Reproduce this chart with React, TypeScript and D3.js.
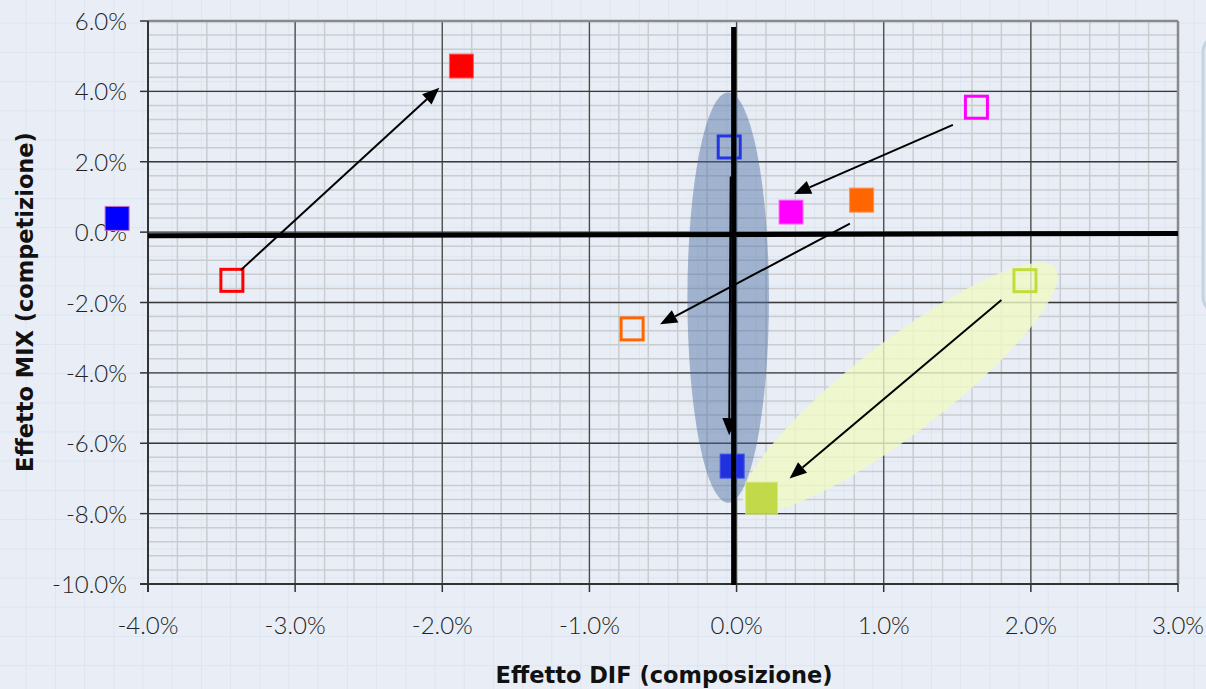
import React from "react";
import * as d3 from "d3";

// ---- data (percent values) ----
const xTicks = [-4, -3, -2, -1, 0, 1, 2, 3];
const yTicks = [6, 4, 2, 0, -2, -4, -6, -8, -10];
const xTickLabels = ["-4.0%", "-3.0%", "-2.0%", "-1.0%", "0.0%", "1.0%", "2.0%", "3.0%"];
const yTickLabels = ["6.0%", "4.0%", "2.0%", "0.0%", "-2.0%", "-4.0%", "-6.0%", "-8.0%", "-10.0%"];

const pointIds = ["blueOut", "redNew", "redOld", "blueOld", "blueNew", "magNew", "magOld", "orgOld", "orgNew", "grnOld", "grnNew"];
const pointX = [-4.21, -1.87, -3.43, -0.05, -0.03, 0.37, 1.63, 0.85, -0.71, 1.96, 0.17];
const pointY = [0.39, 4.72, -1.37, 2.42, -6.65, 0.57, 3.55, 0.91, -2.75, -1.38, -7.56];

const arrowX1 = [-3.37, 1.47, 0.77, -0.04, 1.80];
const arrowY1 = [-1.08, 3.05, 0.24, 1.58, -1.93];
const arrowX2 = [-2.02, 0.39, -0.52, -0.05, 0.36];
const arrowY2 = [4.10, 1.08, -2.62, -5.77, -7.0];

const axisLineX1 = [-4, -0.02];
const axisLineY1 = [-0.1, 5.83];
const axisLineX2 = [3, -0.02];
const axisLineY2 = [-0.04, -10.03];

// ---- styles ----
const markerStyle: Record<string, { fill: string; stroke: string; size: number; sw: number; op?: number }> = {
  blueOut: { fill: "#0000ff", stroke: "#c070c8", size: 24, sw: 1 },
  redNew: { fill: "#ff0000", stroke: "#ff6060", size: 24, sw: 1 },
  redOld: { fill: "none", stroke: "#ff0000", size: 22, sw: 3 },
  blueOld: { fill: "none", stroke: "#2436e0", size: 22, sw: 3 },
  blueNew: { fill: "#2032e0", stroke: "#4050e8", size: 24, sw: 1 },
  magNew: { fill: "#ff00ff", stroke: "#ff70ff", size: 24, sw: 1 },
  magOld: { fill: "none", stroke: "#ff00ff", size: 22, sw: 3 },
  orgOld: { fill: "#ff6600", stroke: "#ff9050", size: 24, sw: 1 },
  orgNew: { fill: "none", stroke: "#ff6600", size: 22, sw: 3 },
  grnOld: { fill: "none", stroke: "#c2dc3a", size: 22, sw: 3 },
  grnNew: { fill: "#bcd638", stroke: "#d4ea70", size: 32, sw: 1, op: 0.88 },
};

const W = 1206;
const H = 689;
const margin = { left: 148, right: 1178, top: 21, bottom: 584 };

export default function App() {
  const x = d3.scaleLinear().domain([-4, 3]).range([margin.left, margin.right]);
  const y = d3.scaleLinear().domain([-10, 6]).range([margin.bottom, margin.top]);

  const minorX = d3.range(-4, 3.0001, 0.2);
  const minorY = d3.range(-10, 6.0001, 0.4);
  const patX = d3.range(-3, W, 29.2);
  const patY = d3.range(-6, H, 29.2);

  // ellipses
  const blueEl = { cx: x(-0.057), cy: y(-1.86), rx: x(0.22) - x(-0.057), ry: y(-1.86) - y(3.97) };
  const gA = [x(0.06), y(-7.8)];
  const gB = [x(2.166), y(-1.02)];
  const gcx = (gA[0] + gB[0]) / 2;
  const gcy = (gA[1] + gB[1]) / 2;
  const grx = Math.hypot(gB[0] - gA[0], gB[1] - gA[1]) / 2;
  const gAng = (Math.atan2(gB[1] - gA[1], gB[0] - gA[0]) * 180) / Math.PI;

  const arrows = arrowX1.map((_, i) => {
    const x1 = x(arrowX1[i]), y1 = y(arrowY1[i]), x2 = x(arrowX2[i]), y2 = y(arrowY2[i]);
    const a = Math.atan2(y2 - y1, x2 - x1);
    const L = 17, hw = 7;
    const bx = x2 - L * Math.cos(a), by = y2 - L * Math.sin(a);
    const p1 = [bx + hw * Math.sin(a), by - hw * Math.cos(a)];
    const p2 = [bx - hw * Math.sin(a), by + hw * Math.cos(a)];
    return { x1, y1, bx, by, head: `${x2},${y2} ${p1[0]},${p1[1]} ${p2[0]},${p2[1]}` };
  });

  return (
    <div style={{ position: "fixed", left: 0, top: 0 }}>
      <svg width={W} height={H} style={{ display: "block" }}>
        <defs>
          <filter id="noise" x="0" y="0" width="100%" height="100%">
            <feTurbulence type="fractalNoise" baseFrequency="0.9" numOctaves="1" result="n" />
            <feColorMatrix type="saturate" values="0" />
          </filter>
        </defs>
        <rect x={0} y={0} width={W} height={H} fill="#e9eef6" />
        {patX.map((v, i) => (
          <line key={"px" + i} x1={v} x2={v} y1={0} y2={H} stroke="#dce5f0" strokeWidth={1} />
        ))}
        {patY.map((v, i) => (
          <line key={"py" + i} x1={0} x2={W} y1={v} y2={v} stroke="#dce5f0" strokeWidth={1} />
        ))}

        {/* legend box (cut off at right) */}
        <rect x={1203} y={36} width={120} height={277} rx={16} fill="#e2eaf1" stroke="#c3d3e2" strokeWidth={3} />

        {/* minor grid */}
        {minorX.map((v, i) => (
          <line key={"mx" + i} x1={x(v)} x2={x(v)} y1={margin.top} y2={margin.bottom} stroke="#cacccf" strokeWidth={1.5} />
        ))}
        {minorY.map((v, i) => (
          <line key={"my" + i} x1={margin.left} x2={margin.right} y1={y(v)} y2={y(v)} stroke="#cacccf" strokeWidth={1.5} />
        ))}
        {/* major grid */}
        {xTicks.map((v, i) => (
          <line key={"Mx" + i} x1={x(v)} x2={x(v)} y1={margin.top} y2={margin.bottom} stroke="#4a4a4a" strokeWidth={1.3} />
        ))}
        {yTicks.map((v, i) => (
          <line key={"My" + i} x1={margin.left} x2={margin.right} y1={y(v)} y2={y(v)} stroke="#3a3a3a" strokeWidth={1.3} />
        ))}

        {/* frame */}
        <line x1={margin.left} x2={margin.right} y1={margin.top} y2={margin.top} stroke="#8a8a8a" strokeWidth={2.5} />
        <line x1={margin.right} x2={margin.right} y1={margin.top} y2={margin.bottom} stroke="#8a8a8a" strokeWidth={2.5} />
        <line x1={margin.left} x2={margin.left} y1={margin.top} y2={margin.bottom + 8} stroke="#333" strokeWidth={2} />
        <line x1={margin.left - 8} x2={margin.right} y1={margin.bottom} y2={margin.bottom} stroke="#333" strokeWidth={2} />
        {yTicks.map((v, i) => (
          <line key={"yt" + i} x1={margin.left - 8} x2={margin.left} y1={y(v)} y2={y(v)} stroke="#333" strokeWidth={1.5} />
        ))}
        {xTicks.map((v, i) => (
          <line key={"xt" + i} x1={x(v)} x2={x(v)} y1={margin.bottom} y2={margin.bottom + 8} stroke="#333" strokeWidth={1.5} />
        ))}

        {/* tick labels */}
        {yTicks.map((v, i) => (
          <text key={"yl" + i} x={127} y={y(v) + 9} textAnchor="end" fontFamily="Lato" fontWeight={300} fontSize={24} fill="#222">
            {yTickLabels[i]}
          </text>
        ))}
        {xTicks.map((v, i) => (
          <text key={"xl" + i} x={x(v)} y={634} textAnchor="middle" fontFamily="Lato" fontWeight={300} fontSize={24} fill="#222">
            {xTickLabels[i]}
          </text>
        ))}

        {/* axis titles */}
        <text x={664} y={683} textAnchor="middle" fontFamily="DejaVu Sans" fontWeight={700} fontSize={22.5} fill="#111">
          Effetto DIF (composizione)
        </text>
        <text transform="translate(33,302) rotate(-90)" textAnchor="middle" fontFamily="DejaVu Sans" fontWeight={700} fontSize={22.5} fill="#111">
          Effetto MIX (competizione)
        </text>

        {/* ellipses */}
        <ellipse cx={blueEl.cx} cy={blueEl.cy} rx={blueEl.rx} ry={blueEl.ry} fill="#44699f" fillOpacity={0.45} />
        <ellipse cx={blueEl.cx} cy={blueEl.cy} rx={blueEl.rx} ry={blueEl.ry} fill="#ffffff" opacity={0.06} filter="url(#noise)" />
        <ellipse cx={gcx} cy={gcy} rx={grx} ry={46} transform={`rotate(${gAng},${gcx},${gcy})`} fill="#f0f9c6" fillOpacity={0.8} />

        {/* markers */}
        {pointIds.map((id, i) => {
          const s = markerStyle[id];
          return (
            <rect
              key={id}
              x={x(pointX[i]) - s.size / 2}
              y={y(pointY[i]) - s.size / 2}
              width={s.size}
              height={s.size}
              fill={s.fill}
              stroke={s.stroke}
              strokeWidth={s.sw}
              opacity={s.op ?? 1}
            />
          );
        })}

        {/* thick axis lines */}
        {axisLineX1.map((_, i) => (
          <line key={"al" + i} x1={x(axisLineX1[i])} y1={y(axisLineY1[i])} x2={x(axisLineX2[i])} y2={y(axisLineY2[i])} stroke="#000" strokeWidth={5} />
        ))}

        {/* arrows */}
        {arrows.map((a, i) => (
          <g key={"ar" + i}>
            <line x1={a.x1} y1={a.y1} x2={a.bx} y2={a.by} stroke="#000" strokeWidth={2} />
            <polygon points={a.head} fill="#000" />
          </g>
        ))}
      </svg>
    </div>
  );
}
